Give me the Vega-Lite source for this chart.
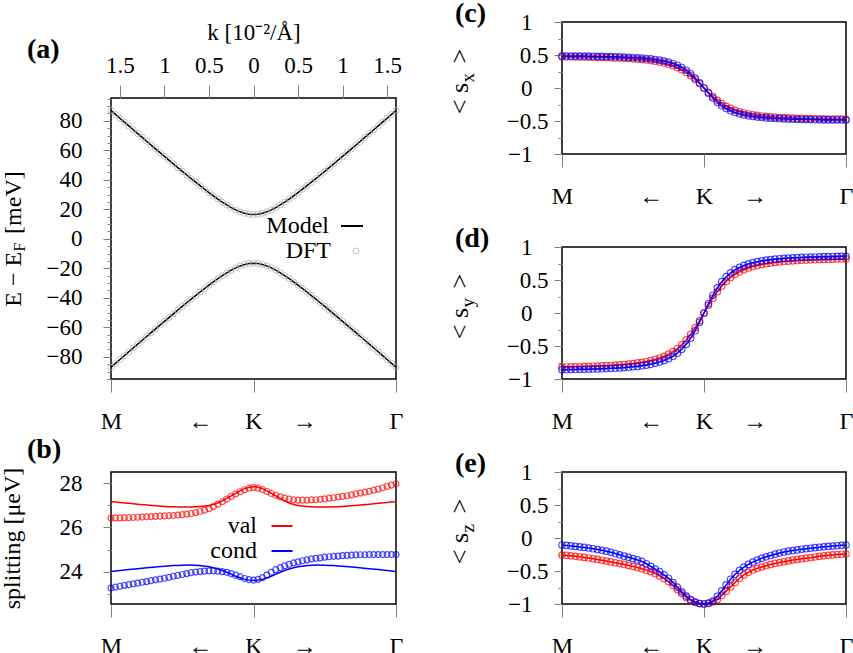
{
  "$schema": "https://vega.github.io/schema/vega-lite/v6.json",
  "background": "white",
  "padding": {"left": -1, "top": -1, "right": 0, "bottom": 0},
  "spacing": 451,
  "bounds": "flush",
  "resolve": {"scale": {"color": "independent", "shape": "independent"}},
  "hconcat": [
    {
      "spacing": 75,
      "bounds": "flush",
      "resolve": {"scale": {"color": "independent", "shape": "independent"}},
      "vconcat": [
        {"width": 285, "height": 1, "data": {"values": [{"k": 0}]}, "mark": {"type": "point", "opacity": 0},
         "encoding": {"x": {"field": "k", "type": "quantitative", "axis": null}}, "view": {"stroke": null}},
        {
          "spacing": 93,
          "bounds": "flush",
          "resolve": {"scale": {"color": "independent", "shape": "independent"}},
          "vconcat": [
            {
              "width": 285,
              "height": 281,
              "title": {"text": "(a)", "dx": -84, "offset": -43},
              "data": {"name": "bands"},
              "layer": [
                {
                  "mark": {"type": "line", "strokeWidth": 1.5},
                  "encoding": {
                    "x": {"field": "k", "type": "quantitative", "scale": {"domain": [-1.6, 1.6], "nice": false, "zero": false},
                      "axis": {"orient": "bottom", "values": [-1.6, 0, 1.6], "title": null, "tickSize": 13, "labelPadding": 17, "labelFontSize": 24,
                        "labelExpr": "datum.value < -1 ? 'M' : datum.value > 1 ? 'Γ' : 'K'"}},
                    "y": {"field": "c", "type": "quantitative", "scale": {"domain": [-95, 95.5], "nice": false, "zero": false},
                      "axis": {"orient": "left", "values": [-80, -60, -40, -20, 0, 20, 40, 60, 80], "format": "d", "tickSize": 8, "labelPadding": 21,
                        "title": "E − E\u00a0\u00a0\u00a0[meV]", "titleFontSize": 24, "titleX": -91, "titleY": 140.5, "titleAngle": 270, "titleAlign": "center", "titleBaseline": "alphabetic"}},
                    "color": {"datum": "Model", "type": "nominal", "scale": {"domain": ["Model"], "range": ["black"]},
                      "legend": {"orient": "none", "legendX": 229, "legendY": 116, "title": null, "labelAlign": "right", "labelOffset": -35, "labelFontSize": 24, "symbolType": "stroke", "symbolSize": 484, "symbolStrokeWidth": 2, "padding": 0, "labelLimit": 0}}
                  }
                },
                {
                  "mark": {"type": "line", "strokeWidth": 1.5},
                  "encoding": {
                    "x": {"field": "k", "type": "quantitative",
                      "axis": {"orient": "bottom", "values": [-0.6, 0.57], "title": null, "tickSize": 13, "tickOpacity": 0, "labelPadding": 17, "labelFontSize": 24,
                        "labelExpr": "datum.value < 0 ? '←' : '→'"}},
                    "y": {"field": "v", "type": "quantitative",
                      "axis": {"orient": "left", "values": [-95, -90, -85, -75, -70, -65, -55, -50, -45, -35, -30, -25, -15, -10, -5, 5, 10, 15, 25, 30, 35, 45, 50, 55, 65, 70, 75, 85, 90, 95],
                        "tickSize": 4, "labels": false,
                        "title": "F", "titleFontSize": 16, "titleX": -87, "titleY": 153, "titleAngle": 270, "titleAlign": "left", "titleBaseline": "alphabetic"}},
                    "color": {"datum": "Model", "type": "nominal"}
                  }
                },
                {
                  "mark": {"type": "point", "filled": false, "size": 36, "strokeWidth": 1, "color": "#a8a8a8"},
                  "encoding": {
                    "x": {"field": "k", "type": "quantitative",
                      "axis": {"orient": "top", "values": [-1.5, -1, -0.5, 0, 0.5, 1, 1.5], "labelExpr": "'' + abs(datum.value)", "tickSize": 13, "labelPadding": 8, "title": "k [10⁻²/Å]", "titlePadding": 10}},
                    "y": {"field": "c", "type": "quantitative", "axis": null},
                    "shape": {"datum": "DFT", "type": "nominal", "scale": {"domain": ["DFT"], "range": ["circle"]},
                      "legend": {"orient": "none", "legendX": 233, "legendY": 141, "title": null, "labelAlign": "right", "labelOffset": -37, "labelFontSize": 24, "symbolSize": 36, "symbolStrokeWidth": 1, "symbolStrokeColor": "#a8a8a8", "padding": 0, "labelLimit": 0}}
                  }
                },
                {
                  "mark": {"type": "point", "filled": false, "size": 36, "strokeWidth": 1, "color": "#a8a8a8"},
                  "encoding": {
                    "x": {"field": "k", "type": "quantitative", "axis": null},
                    "y": {"field": "v", "type": "quantitative", "axis": null},
                    "shape": {"datum": "DFT", "type": "nominal"}
                  }
                }
              ],
              "resolve": {"axis": {"x": "independent", "y": "independent"}}
            },
            {
              "width": 285,
              "height": 132,
              "title": {"text": "(b)", "dx": -84, "offset": 3},
              "layer": [
                {
                  "data": {"name": "split_model"},
                  "mark": {"type": "line", "strokeWidth": 1.5, "interpolate": "monotone"},
                  "encoding": {
                    "x": {"field": "k", "type": "quantitative", "scale": {"domain": [-1.6, 1.6], "nice": false, "zero": false},
                      "axis": {"orient": "bottom", "values": [-1.6, 0, 1.6], "title": null, "tickSize": 13, "labelPadding": 17, "labelFontSize": 24,
                        "labelExpr": "datum.value < -1 ? 'M' : datum.value > 1 ? 'Γ' : 'K'"}},
                    "y": {"field": "val", "type": "quantitative", "scale": {"domain": [22.55, 28.5], "nice": false, "zero": false},
                      "axis": {"orient": "left", "values": [24, 26, 28], "format": "d", "tickSize": 8, "labelPadding": 21,
                        "title": "splitting [μeV]", "titleFontSize": 24, "titleX": -92, "titleY": 66, "titleAngle": 270, "titleAlign": "center", "titleBaseline": "alphabetic"}},
                    "color": {"datum": "val", "type": "nominal", "scale": {"domain": ["val", "cond"], "range": ["#ff0000", "#0000ff"]},
                      "legend": {"orient": "none", "legendX": 159, "legendY": 42, "title": null, "labelAlign": "right", "labelOffset": -37, "labelFontSize": 24, "symbolType": "stroke", "symbolSize": 441, "symbolStrokeWidth": 2, "padding": 0, "rowPadding": 1, "labelLimit": 0}}
                  }
                },
                {
                  "data": {"name": "split_model"},
                  "mark": {"type": "line", "strokeWidth": 1.5, "interpolate": "monotone"},
                  "encoding": {
                    "x": {"field": "k", "type": "quantitative",
                      "axis": {"orient": "bottom", "values": [-0.6, 0.57], "title": null, "tickSize": 13, "tickOpacity": 0, "labelPadding": 17, "labelFontSize": 24,
                        "labelExpr": "datum.value < 0 ? '←' : '→'"}},
                    "y": {"field": "cond", "type": "quantitative",
                      "axis": {"orient": "left", "values": [23, 25, 27], "tickSize": 4, "labels": false, "title": null}},
                    "color": {"datum": "cond", "type": "nominal"}
                  }
                },
                {
                  "data": {"name": "split_dft"},
                  "mark": {"type": "point", "filled": false, "size": 36, "strokeWidth": 1.2, "color": "#ff0000"},
                  "encoding": {
                    "x": {"field": "k", "type": "quantitative", "axis": null},
                    "y": {"field": "val", "type": "quantitative", "axis": null}
                  }
                },
                {
                  "data": {"name": "split_dft"},
                  "mark": {"type": "point", "filled": false, "size": 36, "strokeWidth": 1.2, "color": "#0000ff"},
                  "encoding": {
                    "x": {"field": "k", "type": "quantitative", "axis": null},
                    "y": {"field": "cond", "type": "quantitative", "axis": null}
                  }
                }
              ],
              "resolve": {"axis": {"x": "independent", "y": "independent"}}
            }
          ]
        }
      ]
    },
    {
      "spacing": 93,
      "bounds": "flush",
      "vconcat": [
        {
          "width": 284,
          "height": 132,
          "title": {"text": "(c)", "dx": -107, "offset": -17},
          "data": {"name": "sx"},
          "layer": [
            {"mark": {"type": "line", "color": "#ff0000", "strokeWidth": 1.5},
             "encoding": {
               "x": {"field": "k", "type": "quantitative", "scale": {"domain": [-1.6, 1.6], "nice": false, "zero": false},
                 "axis": {"orient": "bottom", "values": [-1.6, 0, 1.6], "title": null, "tickSize": 13, "labelPadding": 17, "labelFontSize": 24, "labelExpr": "datum.value < -1 ? 'M' : datum.value > 1 ? 'Γ' : 'K'"}},
               "y": {"field": "val", "type": "quantitative", "scale": {"domain": [-1, 1], "nice": false, "zero": false},
                 "axis": {"orient": "left", "values": [-1, 0, 1], "format": "~g", "tickSize": 8, "labelPadding": 22,
                   "title": "<\u00a0s\u00a0\u00a0\u00a0>", "titleFontSize": 26, "titleX": -95, "titleY": 59, "titleAngle": 270, "titleAlign": "center", "titleBaseline": "alphabetic"}}}},
            {"mark": {"type": "point", "color": "#ff0000", "filled": false, "size": 42, "strokeWidth": 1.2},
             "encoding": {
               "x": {"field": "k", "type": "quantitative",
                 "axis": {"orient": "bottom", "values": [-0.6, 0.57], "title": null, "tickSize": 13, "tickOpacity": 0, "labelPadding": 17, "labelFontSize": 24, "labelExpr": "datum.value < 0 ? '←' : '→'"}},
               "y": {"field": "val", "type": "quantitative", "axis": {"orient": "left", "values": [-0.5, 0.5], "format": "~g", "tickSize": 8, "labelPadding": 6, "title": null}}}},
            {"mark": {"type": "line", "color": "#0000ff", "strokeWidth": 1.5},
             "encoding": {
               "x": {"field": "k", "type": "quantitative", "axis": null},
               "y": {"field": "cond", "type": "quantitative",
                 "axis": {"orient": "left", "values": [-0.75, -0.25, 0.25, 0.75], "tickSize": 4, "labels": false, "title": "x", "titleFontSize": 19, "titleX": -89, "titleY": 60, "titleAngle": 270, "titleAlign": "left", "titleBaseline": "alphabetic"}}}},
            {"mark": {"type": "point", "color": "#0000ff", "filled": false, "size": 42, "strokeWidth": 1.2},
             "encoding": {
               "x": {"field": "k", "type": "quantitative", "axis": null},
               "y": {"field": "cond", "type": "quantitative", "axis": null}}}
          ],
          "resolve": {"axis": {"x": "independent", "y": "independent"}}
        },
        {
          "width": 284,
          "height": 132,
          "title": {"text": "(d)", "dx": -107, "offset": -17},
          "data": {"name": "sy"},
          "layer": [
            {"mark": {"type": "line", "color": "#ff0000", "strokeWidth": 1.5},
             "encoding": {
               "x": {"field": "k", "type": "quantitative", "scale": {"domain": [-1.6, 1.6], "nice": false, "zero": false},
                 "axis": {"orient": "bottom", "values": [-1.6, 0, 1.6], "title": null, "tickSize": 13, "labelPadding": 17, "labelFontSize": 24, "labelExpr": "datum.value < -1 ? 'M' : datum.value > 1 ? 'Γ' : 'K'"}},
               "y": {"field": "val", "type": "quantitative", "scale": {"domain": [-1, 1], "nice": false, "zero": false},
                 "axis": {"orient": "left", "values": [-1, 0, 1], "format": "~g", "tickSize": 8, "labelPadding": 22,
                   "title": "<\u00a0s\u00a0\u00a0\u00a0>", "titleFontSize": 26, "titleX": -95, "titleY": 59, "titleAngle": 270, "titleAlign": "center", "titleBaseline": "alphabetic"}}}},
            {"mark": {"type": "point", "color": "#ff0000", "filled": false, "size": 42, "strokeWidth": 1.2},
             "encoding": {
               "x": {"field": "k", "type": "quantitative",
                 "axis": {"orient": "bottom", "values": [-0.6, 0.57], "title": null, "tickSize": 13, "tickOpacity": 0, "labelPadding": 17, "labelFontSize": 24, "labelExpr": "datum.value < 0 ? '←' : '→'"}},
               "y": {"field": "val", "type": "quantitative", "axis": {"orient": "left", "values": [-0.5, 0.5], "format": "~g", "tickSize": 8, "labelPadding": 6, "title": null}}}},
            {"mark": {"type": "line", "color": "#0000ff", "strokeWidth": 1.5},
             "encoding": {
               "x": {"field": "k", "type": "quantitative", "axis": null},
               "y": {"field": "cond", "type": "quantitative",
                 "axis": {"orient": "left", "values": [-0.75, -0.25, 0.25, 0.75], "tickSize": 4, "labels": false, "title": "y", "titleFontSize": 19, "titleX": -89, "titleY": 60, "titleAngle": 270, "titleAlign": "left", "titleBaseline": "alphabetic"}}}},
            {"mark": {"type": "point", "color": "#0000ff", "filled": false, "size": 42, "strokeWidth": 1.2},
             "encoding": {
               "x": {"field": "k", "type": "quantitative", "axis": null},
               "y": {"field": "cond", "type": "quantitative", "axis": null}}}
          ],
          "resolve": {"axis": {"x": "independent", "y": "independent"}}
        },
        {
          "width": 284,
          "height": 132,
          "title": {"text": "(e)", "dx": -107, "offset": -17},
          "data": {"name": "sz"},
          "layer": [
            {"mark": {"type": "line", "color": "#ff0000", "strokeWidth": 1.5},
             "encoding": {
               "x": {"field": "k", "type": "quantitative", "scale": {"domain": [-1.6, 1.6], "nice": false, "zero": false},
                 "axis": {"orient": "bottom", "values": [-1.6, 0, 1.6], "title": null, "tickSize": 13, "labelPadding": 17, "labelFontSize": 24, "labelExpr": "datum.value < -1 ? 'M' : datum.value > 1 ? 'Γ' : 'K'"}},
               "y": {"field": "val", "type": "quantitative", "scale": {"domain": [-1, 1], "nice": false, "zero": false},
                 "axis": {"orient": "left", "values": [-1, 0, 1], "format": "~g", "tickSize": 8, "labelPadding": 22,
                   "title": "<\u00a0s\u00a0\u00a0\u00a0>", "titleFontSize": 26, "titleX": -95, "titleY": 59, "titleAngle": 270, "titleAlign": "center", "titleBaseline": "alphabetic"}}}},
            {"mark": {"type": "point", "color": "#ff0000", "filled": false, "size": 42, "strokeWidth": 1.2},
             "encoding": {
               "x": {"field": "k", "type": "quantitative",
                 "axis": {"orient": "bottom", "values": [-0.6, 0.57], "title": null, "tickSize": 13, "tickOpacity": 0, "labelPadding": 17, "labelFontSize": 24, "labelExpr": "datum.value < 0 ? '←' : '→'"}},
               "y": {"field": "val", "type": "quantitative", "axis": {"orient": "left", "values": [-0.5, 0.5], "format": "~g", "tickSize": 8, "labelPadding": 6, "title": null}}}},
            {"mark": {"type": "line", "color": "#0000ff", "strokeWidth": 1.5},
             "encoding": {
               "x": {"field": "k", "type": "quantitative", "axis": null},
               "y": {"field": "cond", "type": "quantitative",
                 "axis": {"orient": "left", "values": [-0.75, -0.25, 0.25, 0.75], "tickSize": 4, "labels": false, "title": "z", "titleFontSize": 19, "titleX": -89, "titleY": 60, "titleAngle": 270, "titleAlign": "left", "titleBaseline": "alphabetic"}}}},
            {"mark": {"type": "point", "color": "#0000ff", "filled": false, "size": 42, "strokeWidth": 1.2},
             "encoding": {
               "x": {"field": "k", "type": "quantitative", "axis": null},
               "y": {"field": "cond", "type": "quantitative", "axis": null}}}
          ],
          "resolve": {"axis": {"x": "independent", "y": "independent"}}
        }
      ]
    }
  ],
  "datasets": {
    "bands": [
      {"k": -1.6, "c": 87.02, "v": -87.02}, {"k": -1.55, "c": 84.4, "v": -84.4}, {"k": -1.5, "c": 81.78, "v": -81.78}, {"k": -1.45, "c": 79.17, "v": -79.17},
      {"k": -1.4, "c": 76.56, "v": -76.56}, {"k": -1.35, "c": 73.95, "v": -73.95}, {"k": -1.3, "c": 71.35, "v": -71.35}, {"k": -1.25, "c": 68.76, "v": -68.76},
      {"k": -1.2, "c": 66.17, "v": -66.17}, {"k": -1.15, "c": 63.59, "v": -63.59}, {"k": -1.1, "c": 61.01, "v": -61.01}, {"k": -1.05, "c": 58.45, "v": -58.45},
      {"k": -1.0, "c": 55.89, "v": -55.89}, {"k": -0.95, "c": 53.35, "v": -53.35}, {"k": -0.9, "c": 50.82, "v": -50.82}, {"k": -0.85, "c": 48.29, "v": -48.29},
      {"k": -0.8, "c": 45.8, "v": -45.8}, {"k": -0.75, "c": 43.32, "v": -43.32}, {"k": -0.7, "c": 40.86, "v": -40.86}, {"k": -0.65, "c": 38.43, "v": -38.43},
      {"k": -0.6, "c": 36.04, "v": -36.04}, {"k": -0.55, "c": 33.69, "v": -33.69}, {"k": -0.5, "c": 31.39, "v": -31.39}, {"k": -0.45, "c": 29.15, "v": -29.15},
      {"k": -0.4, "c": 26.99, "v": -26.99}, {"k": -0.35, "c": 24.93, "v": -24.93}, {"k": -0.3, "c": 23.0, "v": -23.0}, {"k": -0.25, "c": 21.23, "v": -21.23},
      {"k": -0.2, "c": 19.66, "v": -19.66}, {"k": -0.15, "c": 18.34, "v": -18.34}, {"k": -0.1, "c": 17.34, "v": -17.34}, {"k": -0.05, "c": 16.72, "v": -16.72},
      {"k": 0, "c": 16.5, "v": -16.5},
      {"k": 0.05, "c": 16.72, "v": -16.72}, {"k": 0.1, "c": 17.34, "v": -17.34}, {"k": 0.15, "c": 18.34, "v": -18.34}, {"k": 0.2, "c": 19.66, "v": -19.66},
      {"k": 0.25, "c": 21.23, "v": -21.23}, {"k": 0.3, "c": 23.0, "v": -23.0}, {"k": 0.35, "c": 24.93, "v": -24.93}, {"k": 0.4, "c": 26.99, "v": -26.99},
      {"k": 0.45, "c": 29.15, "v": -29.15}, {"k": 0.5, "c": 31.39, "v": -31.39}, {"k": 0.55, "c": 33.69, "v": -33.69}, {"k": 0.6, "c": 36.04, "v": -36.04},
      {"k": 0.65, "c": 38.43, "v": -38.43}, {"k": 0.7, "c": 40.86, "v": -40.86}, {"k": 0.75, "c": 43.32, "v": -43.32}, {"k": 0.8, "c": 45.8, "v": -45.8},
      {"k": 0.85, "c": 48.29, "v": -48.29}, {"k": 0.9, "c": 50.82, "v": -50.82}, {"k": 0.95, "c": 53.35, "v": -53.35}, {"k": 1.0, "c": 55.89, "v": -55.89},
      {"k": 1.05, "c": 58.45, "v": -58.45}, {"k": 1.1, "c": 61.01, "v": -61.01}, {"k": 1.15, "c": 63.59, "v": -63.59}, {"k": 1.2, "c": 66.17, "v": -66.17},
      {"k": 1.25, "c": 68.76, "v": -68.76}, {"k": 1.3, "c": 71.35, "v": -71.35}, {"k": 1.35, "c": 73.95, "v": -73.95}, {"k": 1.4, "c": 76.56, "v": -76.56},
      {"k": 1.45, "c": 79.17, "v": -79.17}, {"k": 1.5, "c": 81.78, "v": -81.78}, {"k": 1.55, "c": 84.4, "v": -84.4}, {"k": 1.6, "c": 87.02, "v": -87.02}
    ],
    "split_model": [
      {"k": -1.6, "val": 27.16, "cond": 24.02}, {"k": -1.5, "val": 27.13, "cond": 24.06}, {"k": -1.4, "val": 27.09, "cond": 24.1}, {"k": -1.3, "val": 27.05, "cond": 24.14},
      {"k": -1.2, "val": 27.01, "cond": 24.18}, {"k": -1.1, "val": 26.98, "cond": 24.22}, {"k": -1.0, "val": 26.95, "cond": 24.25}, {"k": -0.9, "val": 26.93, "cond": 24.28},
      {"k": -0.8, "val": 26.92, "cond": 24.3}, {"k": -0.7, "val": 26.92, "cond": 24.31}, {"k": -0.6, "val": 26.94, "cond": 24.28}, {"k": -0.5, "val": 26.99, "cond": 24.23},
      {"k": -0.4, "val": 27.1, "cond": 24.13}, {"k": -0.3, "val": 27.31, "cond": 23.98}, {"k": -0.2, "val": 27.54, "cond": 23.8}, {"k": -0.1, "val": 27.75, "cond": 23.66},
      {"k": 0, "val": 27.83, "cond": 23.61},
      {"k": 0.1, "val": 27.75, "cond": 23.66}, {"k": 0.2, "val": 27.54, "cond": 23.8}, {"k": 0.3, "val": 27.31, "cond": 23.98}, {"k": 0.4, "val": 27.1, "cond": 24.13},
      {"k": 0.5, "val": 26.99, "cond": 24.23}, {"k": 0.6, "val": 26.94, "cond": 24.28}, {"k": 0.7, "val": 26.92, "cond": 24.31}, {"k": 0.8, "val": 26.92, "cond": 24.3},
      {"k": 0.9, "val": 26.93, "cond": 24.28}, {"k": 1.0, "val": 26.95, "cond": 24.25}, {"k": 1.1, "val": 26.98, "cond": 24.22}, {"k": 1.2, "val": 27.01, "cond": 24.18},
      {"k": 1.3, "val": 27.05, "cond": 24.14}, {"k": 1.4, "val": 27.09, "cond": 24.1}, {"k": 1.5, "val": 27.13, "cond": 24.06}, {"k": 1.6, "val": 27.16, "cond": 24.02}
    ],
    "split_dft": [
      {"k": -1.6, "val": 26.42, "cond": 23.27}, {"k": -1.55, "val": 26.43, "cond": 23.31}, {"k": -1.5, "val": 26.43, "cond": 23.35}, {"k": -1.45, "val": 26.44, "cond": 23.39},
      {"k": -1.4, "val": 26.44, "cond": 23.42}, {"k": -1.35, "val": 26.45, "cond": 23.46}, {"k": -1.3, "val": 26.46, "cond": 23.49}, {"k": -1.25, "val": 26.47, "cond": 23.53},
      {"k": -1.2, "val": 26.48, "cond": 23.56}, {"k": -1.15, "val": 26.49, "cond": 23.6}, {"k": -1.1, "val": 26.5, "cond": 23.64}, {"k": -1.05, "val": 26.51, "cond": 23.67},
      {"k": -1.0, "val": 26.52, "cond": 23.71}, {"k": -0.95, "val": 26.53, "cond": 23.75}, {"k": -0.9, "val": 26.54, "cond": 23.8}, {"k": -0.85, "val": 26.56, "cond": 23.84},
      {"k": -0.8, "val": 26.58, "cond": 23.88}, {"k": -0.75, "val": 26.6, "cond": 23.92}, {"k": -0.7, "val": 26.63, "cond": 23.96}, {"k": -0.65, "val": 26.67, "cond": 23.99},
      {"k": -0.6, "val": 26.72, "cond": 24.01}, {"k": -0.55, "val": 26.78, "cond": 24.03}, {"k": -0.5, "val": 26.85, "cond": 24.04}, {"k": -0.45, "val": 26.94, "cond": 24.04},
      {"k": -0.4, "val": 27.05, "cond": 24.03}, {"k": -0.35, "val": 27.16, "cond": 24.01}, {"k": -0.3, "val": 27.28, "cond": 23.98}, {"k": -0.25, "val": 27.4, "cond": 23.92},
      {"k": -0.2, "val": 27.51, "cond": 23.85}, {"k": -0.15, "val": 27.61, "cond": 23.78}, {"k": -0.1, "val": 27.7, "cond": 23.7}, {"k": -0.05, "val": 27.77, "cond": 23.65},
      {"k": 0, "val": 27.8, "cond": 23.63},
      {"k": 0.05, "val": 27.77, "cond": 23.66}, {"k": 0.1, "val": 27.71, "cond": 23.74}, {"k": 0.15, "val": 27.62, "cond": 23.85}, {"k": 0.2, "val": 27.53, "cond": 23.98},
      {"k": 0.25, "val": 27.45, "cond": 24.1}, {"k": 0.3, "val": 27.38, "cond": 24.19}, {"k": 0.35, "val": 27.32, "cond": 24.27}, {"k": 0.4, "val": 27.28, "cond": 24.34},
      {"k": 0.45, "val": 27.25, "cond": 24.4}, {"k": 0.5, "val": 27.23, "cond": 24.45}, {"k": 0.55, "val": 27.23, "cond": 24.5}, {"k": 0.6, "val": 27.23, "cond": 24.54},
      {"k": 0.65, "val": 27.24, "cond": 24.58}, {"k": 0.7, "val": 27.25, "cond": 24.61}, {"k": 0.75, "val": 27.27, "cond": 24.63}, {"k": 0.8, "val": 27.29, "cond": 24.66},
      {"k": 0.85, "val": 27.32, "cond": 24.68}, {"k": 0.9, "val": 27.34, "cond": 24.7}, {"k": 0.95, "val": 27.37, "cond": 24.71}, {"k": 1.0, "val": 27.4, "cond": 24.73},
      {"k": 1.05, "val": 27.43, "cond": 24.74}, {"k": 1.1, "val": 27.47, "cond": 24.75}, {"k": 1.15, "val": 27.51, "cond": 24.76}, {"k": 1.2, "val": 27.55, "cond": 24.77},
      {"k": 1.25, "val": 27.59, "cond": 24.77}, {"k": 1.3, "val": 27.63, "cond": 24.78}, {"k": 1.35, "val": 27.68, "cond": 24.78}, {"k": 1.4, "val": 27.73, "cond": 24.78},
      {"k": 1.45, "val": 27.79, "cond": 24.78}, {"k": 1.5, "val": 27.85, "cond": 24.78}, {"k": 1.55, "val": 27.91, "cond": 24.78}, {"k": 1.6, "val": 27.97, "cond": 24.78}
    ],
    "sx": [
      {"k": -1.6, "val": 0.473, "cond": 0.486}, {"k": -1.55, "val": 0.472, "cond": 0.485}, {"k": -1.5, "val": 0.472, "cond": 0.485}, {"k": -1.45, "val": 0.471, "cond": 0.484},
      {"k": -1.4, "val": 0.47, "cond": 0.483}, {"k": -1.35, "val": 0.469, "cond": 0.483}, {"k": -1.3, "val": 0.467, "cond": 0.482}, {"k": -1.25, "val": 0.466, "cond": 0.481},
      {"k": -1.2, "val": 0.465, "cond": 0.479}, {"k": -1.15, "val": 0.463, "cond": 0.478}, {"k": -1.1, "val": 0.461, "cond": 0.477}, {"k": -1.05, "val": 0.459, "cond": 0.475},
      {"k": -1.0, "val": 0.456, "cond": 0.473}, {"k": -0.95, "val": 0.454, "cond": 0.471}, {"k": -0.9, "val": 0.45, "cond": 0.468}, {"k": -0.85, "val": 0.447, "cond": 0.465},
      {"k": -0.8, "val": 0.442, "cond": 0.462}, {"k": -0.75, "val": 0.437, "cond": 0.458}, {"k": -0.7, "val": 0.431, "cond": 0.453}, {"k": -0.65, "val": 0.424, "cond": 0.447},
      {"k": -0.6, "val": 0.416, "cond": 0.44}, {"k": -0.55, "val": 0.406, "cond": 0.432}, {"k": -0.5, "val": 0.394, "cond": 0.421}, {"k": -0.45, "val": 0.379, "cond": 0.408},
      {"k": -0.4, "val": 0.361, "cond": 0.392}, {"k": -0.35, "val": 0.338, "cond": 0.371}, {"k": -0.3, "val": 0.31, "cond": 0.345}, {"k": -0.25, "val": 0.277, "cond": 0.311},
      {"k": -0.2, "val": 0.236, "cond": 0.269}, {"k": -0.15, "val": 0.187, "cond": 0.216}, {"k": -0.1, "val": 0.13, "cond": 0.152}, {"k": -0.05, "val": 0.067, "cond": 0.079},
      {"k": 0, "val": 0, "cond": 0},
      {"k": 0.05, "val": -0.067, "cond": -0.079}, {"k": 0.1, "val": -0.13, "cond": -0.152}, {"k": 0.15, "val": -0.187, "cond": -0.216}, {"k": 0.2, "val": -0.236, "cond": -0.269},
      {"k": 0.25, "val": -0.277, "cond": -0.311}, {"k": 0.3, "val": -0.31, "cond": -0.345}, {"k": 0.35, "val": -0.338, "cond": -0.371}, {"k": 0.4, "val": -0.361, "cond": -0.392},
      {"k": 0.45, "val": -0.379, "cond": -0.408}, {"k": 0.5, "val": -0.394, "cond": -0.421}, {"k": 0.55, "val": -0.406, "cond": -0.432}, {"k": 0.6, "val": -0.416, "cond": -0.44},
      {"k": 0.65, "val": -0.424, "cond": -0.447}, {"k": 0.7, "val": -0.431, "cond": -0.453}, {"k": 0.75, "val": -0.437, "cond": -0.458}, {"k": 0.8, "val": -0.442, "cond": -0.462},
      {"k": 0.85, "val": -0.447, "cond": -0.465}, {"k": 0.9, "val": -0.45, "cond": -0.468}, {"k": 0.95, "val": -0.454, "cond": -0.471}, {"k": 1.0, "val": -0.456, "cond": -0.473},
      {"k": 1.05, "val": -0.459, "cond": -0.475}, {"k": 1.1, "val": -0.461, "cond": -0.477}, {"k": 1.15, "val": -0.463, "cond": -0.478}, {"k": 1.2, "val": -0.465, "cond": -0.479},
      {"k": 1.25, "val": -0.466, "cond": -0.481}, {"k": 1.3, "val": -0.467, "cond": -0.482}, {"k": 1.35, "val": -0.469, "cond": -0.483}, {"k": 1.4, "val": -0.47, "cond": -0.483},
      {"k": 1.45, "val": -0.471, "cond": -0.484}, {"k": 1.5, "val": -0.472, "cond": -0.485}, {"k": 1.55, "val": -0.472, "cond": -0.485}, {"k": 1.6, "val": -0.473, "cond": -0.486}
    ],
    "sy": [
      {"k": -1.6, "val": -0.82, "cond": -0.859}, {"k": -1.55, "val": -0.818, "cond": -0.858}, {"k": -1.5, "val": -0.817, "cond": -0.857}, {"k": -1.45, "val": -0.815, "cond": -0.856},
      {"k": -1.4, "val": -0.814, "cond": -0.854}, {"k": -1.35, "val": -0.812, "cond": -0.853}, {"k": -1.3, "val": -0.81, "cond": -0.851}, {"k": -1.25, "val": -0.807, "cond": -0.849},
      {"k": -1.2, "val": -0.805, "cond": -0.847}, {"k": -1.15, "val": -0.802, "cond": -0.845}, {"k": -1.1, "val": -0.798, "cond": -0.842}, {"k": -1.05, "val": -0.795, "cond": -0.839},
      {"k": -1.0, "val": -0.79, "cond": -0.836}, {"k": -0.95, "val": -0.785, "cond": -0.832}, {"k": -0.9, "val": -0.78, "cond": -0.828}, {"k": -0.85, "val": -0.773, "cond": -0.822},
      {"k": -0.8, "val": -0.766, "cond": -0.816}, {"k": -0.75, "val": -0.757, "cond": -0.809}, {"k": -0.7, "val": -0.747, "cond": -0.8}, {"k": -0.65, "val": -0.735, "cond": -0.79},
      {"k": -0.6, "val": -0.72, "cond": -0.778}, {"k": -0.55, "val": -0.703, "cond": -0.763}, {"k": -0.5, "val": -0.682, "cond": -0.744}, {"k": -0.45, "val": -0.656, "cond": -0.721},
      {"k": -0.4, "val": -0.624, "cond": -0.692}, {"k": -0.35, "val": -0.586, "cond": -0.656}, {"k": -0.3, "val": -0.538, "cond": -0.609}, {"k": -0.25, "val": -0.479, "cond": -0.55},
      {"k": -0.2, "val": -0.408, "cond": -0.475}, {"k": -0.15, "val": -0.323, "cond": -0.382}, {"k": -0.1, "val": -0.225, "cond": -0.269}, {"k": -0.05, "val": -0.116, "cond": -0.14},
      {"k": 0, "val": 0, "cond": 0},
      {"k": 0.05, "val": 0.116, "cond": 0.14}, {"k": 0.1, "val": 0.225, "cond": 0.269}, {"k": 0.15, "val": 0.323, "cond": 0.382}, {"k": 0.2, "val": 0.408, "cond": 0.475},
      {"k": 0.25, "val": 0.479, "cond": 0.55}, {"k": 0.3, "val": 0.538, "cond": 0.609}, {"k": 0.35, "val": 0.586, "cond": 0.656}, {"k": 0.4, "val": 0.624, "cond": 0.692},
      {"k": 0.45, "val": 0.656, "cond": 0.721}, {"k": 0.5, "val": 0.682, "cond": 0.744}, {"k": 0.55, "val": 0.703, "cond": 0.763}, {"k": 0.6, "val": 0.72, "cond": 0.778},
      {"k": 0.65, "val": 0.735, "cond": 0.79}, {"k": 0.7, "val": 0.747, "cond": 0.8}, {"k": 0.75, "val": 0.757, "cond": 0.809}, {"k": 0.8, "val": 0.766, "cond": 0.816},
      {"k": 0.85, "val": 0.773, "cond": 0.822}, {"k": 0.9, "val": 0.78, "cond": 0.828}, {"k": 0.95, "val": 0.785, "cond": 0.832}, {"k": 1.0, "val": 0.79, "cond": 0.836},
      {"k": 1.05, "val": 0.795, "cond": 0.839}, {"k": 1.1, "val": 0.798, "cond": 0.842}, {"k": 1.15, "val": 0.802, "cond": 0.845}, {"k": 1.2, "val": 0.805, "cond": 0.847},
      {"k": 1.25, "val": 0.807, "cond": 0.849}, {"k": 1.3, "val": 0.81, "cond": 0.851}, {"k": 1.35, "val": 0.812, "cond": 0.853}, {"k": 1.4, "val": 0.814, "cond": 0.854},
      {"k": 1.45, "val": 0.815, "cond": 0.856}, {"k": 1.5, "val": 0.817, "cond": 0.857}, {"k": 1.55, "val": 0.818, "cond": 0.858}, {"k": 1.6, "val": 0.82, "cond": 0.859}
    ],
    "sz": [
      {"k": -1.6, "val": -0.258, "cond": -0.106}, {"k": -1.55, "val": -0.264, "cond": -0.113}, {"k": -1.5, "val": -0.27, "cond": -0.12}, {"k": -1.45, "val": -0.277, "cond": -0.127},
      {"k": -1.4, "val": -0.285, "cond": -0.135}, {"k": -1.35, "val": -0.294, "cond": -0.143}, {"k": -1.3, "val": -0.303, "cond": -0.152}, {"k": -1.25, "val": -0.314, "cond": -0.163},
      {"k": -1.2, "val": -0.325, "cond": -0.175}, {"k": -1.15, "val": -0.337, "cond": -0.187}, {"k": -1.1, "val": -0.35, "cond": -0.2}, {"k": -1.05, "val": -0.362, "cond": -0.217},
      {"k": -1.0, "val": -0.375, "cond": -0.235}, {"k": -0.95, "val": -0.387, "cond": -0.255}, {"k": -0.9, "val": -0.4, "cond": -0.275}, {"k": -0.85, "val": -0.415, "cond": -0.293},
      {"k": -0.8, "val": -0.43, "cond": -0.312}, {"k": -0.75, "val": -0.447, "cond": -0.332}, {"k": -0.7, "val": -0.465, "cond": -0.355}, {"k": -0.65, "val": -0.487, "cond": -0.39},
      {"k": -0.6, "val": -0.51, "cond": -0.43}, {"k": -0.55, "val": -0.54, "cond": -0.47}, {"k": -0.5, "val": -0.575, "cond": -0.51}, {"k": -0.45, "val": -0.615, "cond": -0.56},
      {"k": -0.4, "val": -0.66, "cond": -0.61}, {"k": -0.35, "val": -0.715, "cond": -0.675}, {"k": -0.3, "val": -0.78, "cond": -0.745}, {"k": -0.25, "val": -0.84, "cond": -0.815},
      {"k": -0.2, "val": -0.9, "cond": -0.88}, {"k": -0.15, "val": -0.945, "cond": -0.935}, {"k": -0.1, "val": -0.975, "cond": -0.97}, {"k": -0.05, "val": -0.994, "cond": -0.992},
      {"k": 0, "val": -1.0, "cond": -1.0},
      {"k": 0.05, "val": -0.99, "cond": -0.988}, {"k": 0.1, "val": -0.97, "cond": -0.955}, {"k": 0.15, "val": -0.93, "cond": -0.885}, {"k": 0.2, "val": -0.87, "cond": -0.8},
      {"k": 0.25, "val": -0.805, "cond": -0.71}, {"k": 0.3, "val": -0.74, "cond": -0.625}, {"k": 0.35, "val": -0.675, "cond": -0.55}, {"k": 0.4, "val": -0.61, "cond": -0.49},
      {"k": 0.45, "val": -0.56, "cond": -0.44}, {"k": 0.5, "val": -0.52, "cond": -0.4}, {"k": 0.55, "val": -0.485, "cond": -0.365}, {"k": 0.6, "val": -0.46, "cond": -0.335},
      {"k": 0.65, "val": -0.44, "cond": -0.308}, {"k": 0.7, "val": -0.42, "cond": -0.285}, {"k": 0.75, "val": -0.4, "cond": -0.265}, {"k": 0.8, "val": -0.385, "cond": -0.245},
      {"k": 0.85, "val": -0.372, "cond": -0.227}, {"k": 0.9, "val": -0.36, "cond": -0.212}, {"k": 0.95, "val": -0.347, "cond": -0.2}, {"k": 1.0, "val": -0.335, "cond": -0.19},
      {"k": 1.05, "val": -0.325, "cond": -0.18}, {"k": 1.1, "val": -0.315, "cond": -0.17}, {"k": 1.15, "val": -0.306, "cond": -0.162}, {"k": 1.2, "val": -0.298, "cond": -0.155},
      {"k": 1.25, "val": -0.288, "cond": -0.147}, {"k": 1.3, "val": -0.278, "cond": -0.14}, {"k": 1.35, "val": -0.27, "cond": -0.134}, {"k": 1.4, "val": -0.262, "cond": -0.128},
      {"k": 1.45, "val": -0.256, "cond": -0.122}, {"k": 1.5, "val": -0.25, "cond": -0.117}, {"k": 1.55, "val": -0.246, "cond": -0.111}, {"k": 1.6, "val": -0.242, "cond": -0.106}
    ]
  },
  "config": {
    "font": "Liberation Serif",
    "view": {"stroke": "black", "strokeWidth": 1.5},
    "axis": {"domain": false, "grid": false, "labelFont": "Liberation Serif", "labelFontSize": 23, "labelColor": "black", "labelFlush": false, "labelOverlap": false, "labelBound": false,
      "titleFont": "Liberation Serif", "titleFontSize": 23, "titleFontWeight": "normal", "titleColor": "black", "tickColor": "#808080", "tickWidth": 1},
    "legend": {"labelFont": "Liberation Serif", "labelFontSize": 24, "labelColor": "black"},
    "title": {"font": "Liberation Serif", "fontSize": 28, "fontWeight": "bold", "color": "black", "anchor": "start", "frame": "group"}
  }
}
